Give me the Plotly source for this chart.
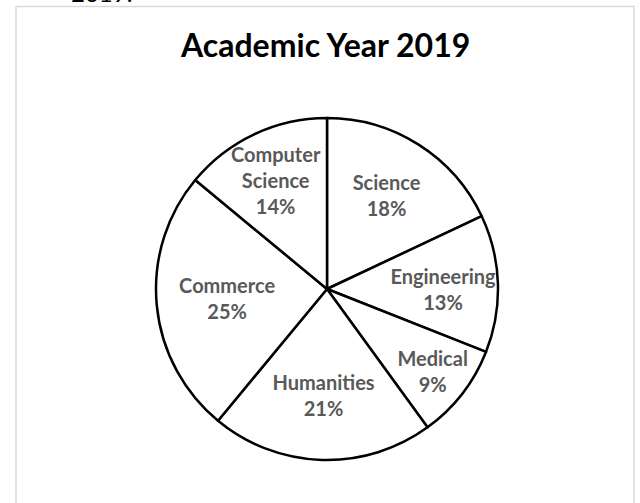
import plotly.graph_objects as go

labels = ["Science", "Engineering", "Medical", "Humanities", "Commerce", "Computer Science"]
display_labels = ["Science", "Engineering", "Medical", "Humanities", "Commerce", "Computer<br>Science"]
values = [18, 13, 9, 21, 25, 14]
title_text = "Academic Year 2019"

W, H = 640, 503
cx, cy, r = 327, 289, 171

fig = go.Figure(go.Pie(
    labels=labels,
    values=values,
    customdata=display_labels,
    texttemplate="%{customdata}<br>%{percent:.0%}",
    textposition="inside",
    insidetextorientation="horizontal",
    sort=False,
    direction="clockwise",
    rotation=0,
    marker=dict(colors=["white"] * len(values), line=dict(color="black", width=2.5)),
    textfont=dict(family="Lato", size=20, color="#595959", weight="bold"),
    hoverinfo="label+percent",
    showlegend=False,
    domain=dict(x=[(cx - r) / W, (cx + r) / W], y=[(H - cy - r) / H, (H - cy + r) / H]),
))

fig.update_layout(
    width=W, height=H,
    margin=dict(l=0, r=0, t=0, b=0),
    paper_bgcolor="white",
    uniformtext=dict(minsize=20, mode="show"),
    shapes=[dict(type="rect", xref="paper", yref="paper",
                 x0=16 / W, x1=634 / W, y0=-0.05, y1=(H - 6.5) / H,
                 line=dict(color="#d9d9d9", width=1.5), fillcolor="rgba(0,0,0,0)")],
    annotations=[
        dict(text="<b>" + title_text + "</b>", xref="paper", yref="paper",
             x=325 / W, y=(H - 44) / H, xanchor="center", yanchor="middle",
             showarrow=False, font=dict(family="Lato", size=32, color="black")),
        dict(text="2019.", xref="paper", yref="paper",
             x=69 / W, y=(H - 9) / H, xanchor="left", yanchor="bottom",
             showarrow=False, font=dict(family="Lato", size=24, color="black")),
    ],
)

fig.write_html("out.html", config={"displayModeBar": False},
               post_script="document.body.style.margin='0';")
